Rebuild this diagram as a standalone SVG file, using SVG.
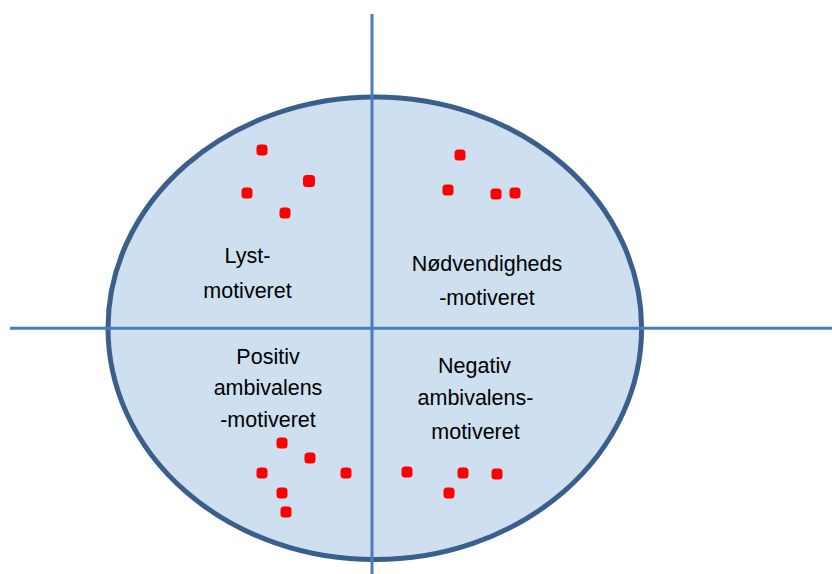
<svg xmlns="http://www.w3.org/2000/svg" width="832" height="574" viewBox="0 0 832 574">
<style>
.lbl{font-family:"Liberation Sans",Arial,sans-serif;font-size:21.5px;fill:#000;text-anchor:middle}
.dot{fill:#ff0000}
.ax{stroke:#4a7ebb;stroke-width:3;fill:none}
</style>
<rect width="832" height="574" fill="#ffffff"/>
<g id="ellipse">
<ellipse cx="374.8" cy="328.3" rx="266.8" ry="231.3" fill="#cedff0" stroke="#3b5f8c" stroke-width="5"/>
</g>
<g id="connectors">
<line class="ax" x1="372" y1="14" x2="372" y2="574"/>
<line class="ax" x1="10" y1="328.3" x2="832" y2="328.3"/>
</g>
<g id="q1">
<text class="lbl" x="247.5" y="263">Lyst-</text>
<text class="lbl" x="247.5" y="298">motiveret</text>
</g>
<g id="q2">
<text class="lbl" x="487" y="271">Nødvendigheds</text>
<text class="lbl" x="487" y="305">-motiveret</text>
</g>
<g id="q3">
<text class="lbl" x="268" y="364">Positiv</text>
<text class="lbl" x="268" y="395">ambivalens</text>
<text class="lbl" x="268" y="427">-motiveret</text>
</g>
<g id="q4">
<text class="lbl" x="474.5" y="373">Negativ</text>
<text class="lbl" x="475.5" y="405">ambivalens-</text>
<text class="lbl" x="475.5" y="439">motiveret</text>
</g>
<g id="dots">
<rect class="dot" x="256.5" y="144.5" width="11" height="11" rx="3.5"/>
<rect class="dot" x="303" y="175" width="12" height="12" rx="3.5"/>
<rect class="dot" x="241.5" y="187.5" width="11" height="11" rx="3.5"/>
<rect class="dot" x="279.5" y="207.5" width="11" height="11" rx="3.5"/>
<rect class="dot" x="454.5" y="149.5" width="11" height="11" rx="3.5"/>
<rect class="dot" x="442.5" y="184.5" width="11" height="11" rx="3.5"/>
<rect class="dot" x="490.5" y="188.5" width="11" height="11" rx="3.5"/>
<rect class="dot" x="509.5" y="187.5" width="11" height="11" rx="3.5"/>
<rect class="dot" x="276.5" y="437.5" width="11" height="11" rx="3.5"/>
<rect class="dot" x="304.5" y="452.5" width="11" height="11" rx="3.5"/>
<rect class="dot" x="256.5" y="467.5" width="11" height="11" rx="3.5"/>
<rect class="dot" x="340.5" y="467.5" width="11" height="11" rx="3.5"/>
<rect class="dot" x="276.5" y="487.5" width="11" height="11" rx="3.5"/>
<rect class="dot" x="280.5" y="506.5" width="11" height="11" rx="3.5"/>
<rect class="dot" x="401.5" y="466.5" width="11" height="11" rx="3.5"/>
<rect class="dot" x="457.5" y="467.5" width="11" height="11" rx="3.5"/>
<rect class="dot" x="491.5" y="468.5" width="11" height="11" rx="3.5"/>
<rect class="dot" x="443.5" y="487.5" width="11" height="11" rx="3.5"/>
</g>
</svg>
